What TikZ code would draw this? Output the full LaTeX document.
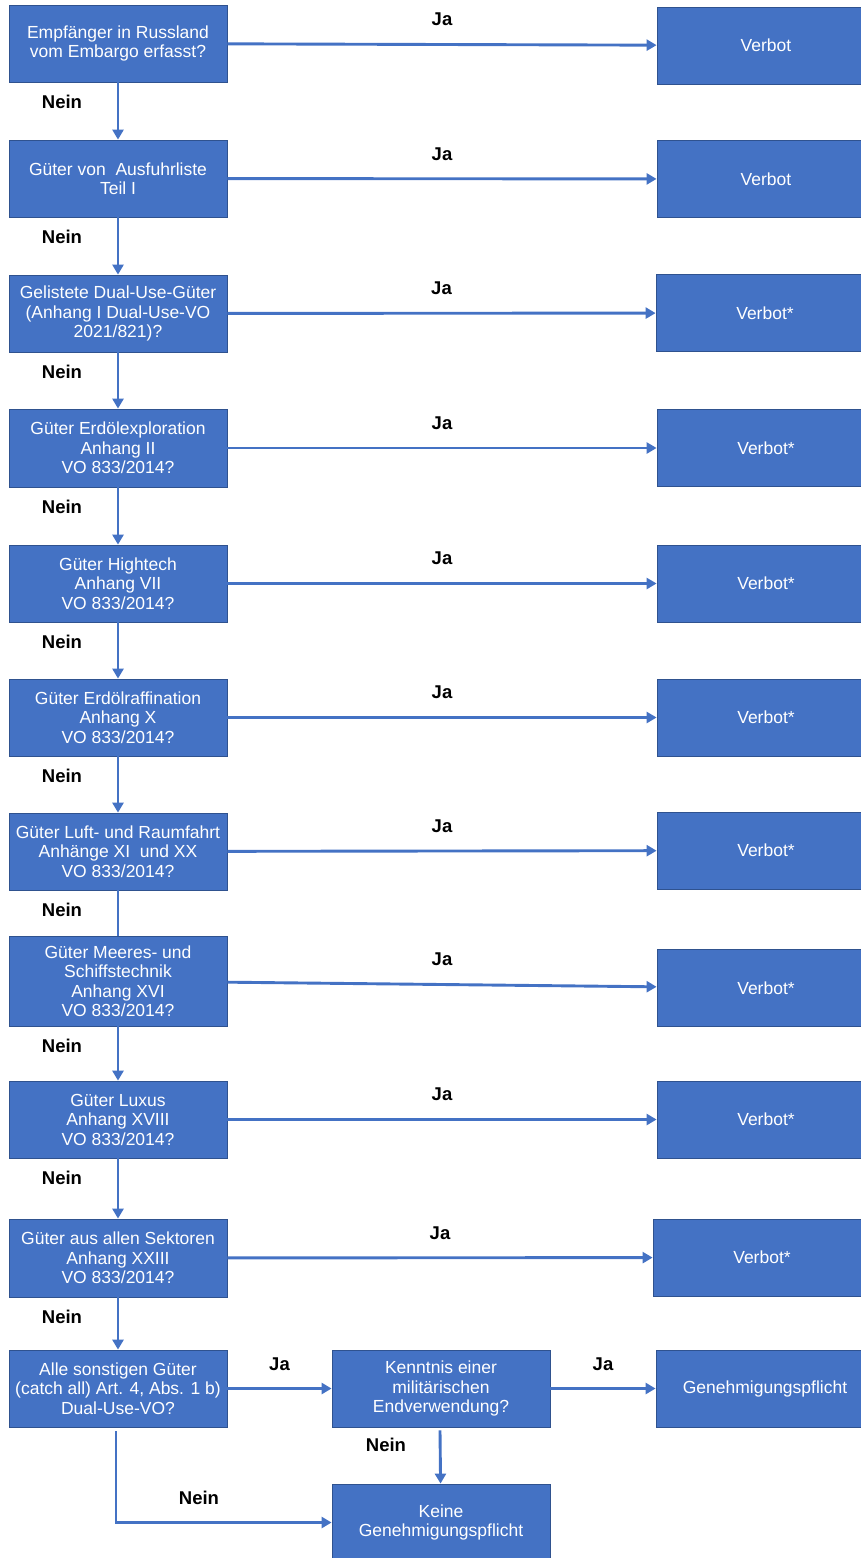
\documentclass[tikz,border=0pt]{standalone}
\usepackage{fontspec}
\setmainfont{Liberation Sans}
\usetikzlibrary{arrows.meta}
\definecolor{boxblue}{HTML}{4472C4}
\definecolor{boxline}{HTML}{2F528F}
\begin{document}
\begin{tikzpicture}[>={Triangle[length=10pt,width=11pt]}, x=1pt, y=-1pt,
  box/.style={draw=boxline, line width=0.8pt, fill=boxblue, text=white,
    minimum width=218pt, minimum height=77pt, inner sep=0pt, align=center,
    font=\fontsize{17.5}{19.5}\selectfont},
  link/.style={draw=boxblue, line width=2.9pt},
  answer/.style={font=\fontsize{18.5}{20}\selectfont\bfseries}]
\useasboundingbox (0,0) rectangle (861,1558);

% === Questions ===
\foreach \i/\y/\h/\txt in {
  1/43.5/77/{Empfänger in Russland\\vom Embargo erfasst?},
  2/178.5/77/{Güter von\ \ Ausfuhrliste\\Teil I},
  3/313.5/77/{Gelistete Dual-Use-Güter\\(Anhang I Dual-Use-VO\\2021/821)?},
  4/448/78/{Güter Erdölexploration\\Anhang II\\VO 833/2014?},
  5/583.5/77/{Güter Hightech\\Anhang VII\\VO 833/2014?},
  6/717.5/77/{Güter Erdölraffination\\Anhang X\\VO 833/2014?},
  7/851.5/77/{Güter Luft- und Raumfahrt\\Anhänge XI\ \ und XX\\VO 833/2014?},
  8/981/90/{Güter Meeres- und\\Schiffstechnik\\Anhang XVI\\VO 833/2014?},
  9/1119.5/77/{Güter Luxus\\Anhang XVIII\\VO 833/2014?},
  10/1258/78/{Güter aus allen Sektoren\\Anhang XXIII\\VO 833/2014?}}{
  \node[box, minimum height=\h pt] (Frage-\i) at (118,\y) {\txt};
}
\node[box] (Frage-11) at (118,1388.5) {Alle sonstigen Güter\\(catch all) Art. 4, Abs. 1 b)\\Dual-Use-VO?};

% === Outcomes ===
\foreach \i/\x/\y/\txt in {
  1/766/45.5/Verbot, 2/766/179/Verbot, 3/765/313/Verbot*,
  4/766/448/Verbot*, 5/766/583.5/Verbot*, 6/766/717.5/Verbot*,
  7/766/850.5/Verbot*, 8/766/988/Verbot*, 9/766/1119.5/Verbot*,
  10/762/1257.5/Verbot*}{
  \node[box] (Verbot-\i) at (\x,\y) {\txt};
}
\node[box] (Kenntnis) at (441,1388.5) {Kenntnis einer\\militärischen\\Endverwendung?};
\node[box] (Pflicht) at (765,1388.5) {Genehmigungspflicht};
\node[box] (Keine) at (441,1522.5) {Keine\\Genehmigungspflicht};

% === Connections ===
% Ja -> Verbot
\foreach \i in {1,...,10}{
  \draw[link, ->] (Frage-\i) -- node[answer, yshift=25pt]{Ja} (Verbot-\i);
}

% Nein -> next question
\foreach \i in {1,...,6,8,9,10}{
  \pgfmathtruncatemacro\j{\i+1}
  \draw[link, ->] (Frage-\i) -- (Frage-\j);
}
\draw[link] (Frage-7) -- (Frage-8);
\foreach \i in {1,...,10}{
  \node[answer] (Nein-\i) at ([xshift=-56pt, yshift=-19pt]Frage-\i.south) {Nein};
}

% catch all
\draw[link, ->] (Frage-11) -- node[answer, yshift=24pt]{Ja} (Kenntnis);
\draw[link, ->] (Kenntnis) -- node[answer, yshift=24pt]{Ja} (Pflicht);
\draw[link, ->] ([xshift=-1pt, yshift=-3pt]Kenntnis.south) -- (Keine);
\node[answer] (Nein-12) at ([xshift=-55pt, yshift=-17pt]Kenntnis.south) {Nein};
\draw[link, ->] ([xshift=-2pt, yshift=-4pt]Frage-11.south) |- (Keine.west);
\node[answer] (Nein-11) at (199,1498) {Nein};

\end{tikzpicture}
\end{document}
